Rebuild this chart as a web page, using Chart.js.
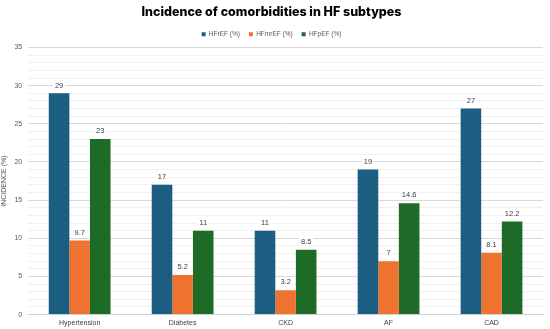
<!DOCTYPE html>
<html>
<head>
<meta charset="utf-8">
<script src="https://cdn.jsdelivr.net/npm/chart.js@4/dist/chart.umd.min.js"></script>
<style>
  html, body { margin: 0; padding: 0; background: #fff; }
  #wrap { width: 550px; height: 329px; position: relative; }
</style>
</head>
<body>
<div id="wrap"><canvas id="myChart"></canvas></div>
<script>
const categories = ['Hypertension', 'Diabetes', 'CKD', 'AF', 'CAD'];
const hfrefValues = [29, 17, 11, 19, 27];
const hfmrefValues = [9.7, 5.2, 3.2, 7, 8.1];
const hfpefValues = [23, 11, 8.5, 14.6, 12.2];
const seriesNames = ['HFrEF (%)', 'HFmrEF (%)', 'HFpEF (%)'];

// draws the value above every bar
const barLabels = {
    id: 'barLabels',
    afterDatasetsDraw(chart) {
        const ctx = chart.ctx;
        ctx.save();
        ctx.font = '7.5px "Liberation Sans", Arial, sans-serif';
        ctx.textAlign = 'center';
        ctx.textBaseline = 'bottom';
        chart.data.datasets.forEach((ds, i) => {
            chart.getDatasetMeta(i).data.forEach((bar, j) => {
                const txt = String(ds.data[j]);
                const w = ctx.measureText(txt).width + 4;
                ctx.fillStyle = '#fff';
                ctx.fillRect(bar.x - w / 2, bar.y - 13, w, 9);
                ctx.fillStyle = '#404040';
                ctx.fillText(txt, bar.x, bar.y - 4);
            });
        });
        ctx.restore();
    }
};

const ctx = document.getElementById('myChart');
const myChart = new Chart(ctx, {
    type: 'bar',
    data: {
        labels: categories,
        datasets: [
            {
                label: seriesNames[0],
                data: hfrefValues,
                backgroundColor: '#1b5e82'
            },
            {
                label: seriesNames[1],
                data: hfmrefValues,
                backgroundColor: '#ee7331'
            },
            {
                label: seriesNames[2],
                data: hfpefValues,
                backgroundColor: '#1e6b28'
            }
        ]
    },
    options: {
        responsive: true,
        maintainAspectRatio: false,
        animation: false,
        categoryPercentage: 0.6,
        barPercentage: 1.0,
        layout: { padding: { left: 0, right: 7, top: 0, bottom: -2 } },
        plugins: {
            title: {
                display: true,
                text: 'Incidence of comorbidities in HF subtypes',
                color: '#000',
                font: { family: 'Inter', size: 12.5, weight: '800' },
                padding: { top: 5, bottom: 2 }
            },
            legend: {
                labels: {
                    boxWidth: 4,
                    boxHeight: 4,
                    padding: 9,
                    color: '#595959',
                    font: { family: '"Liberation Sans", Arial, sans-serif', size: 6.5 }
                }
            },
            tooltip: { enabled: false }
        },
        scales: {
            x: {
                grid: { display: false, drawTicks: false },
                border: { color: '#d0d0d0' },
                ticks: {
                    color: '#404040',
                    font: { family: '"Liberation Sans", Arial, sans-serif', size: 7 },
                    padding: 4
                }
            },
            y: {
                min: 0,
                max: 35,
                border: { display: false },
                grid: {
                    color: c => (c.tick.value % 5 === 0 ? '#d9d9d9' : '#f0f0f0'),
                    drawTicks: false
                },
                ticks: {
                    stepSize: 1,
                    autoSkip: false,
                    padding: 6,
                    color: '#595959',
                    font: { family: '"Liberation Sans", Arial, sans-serif', size: 7 },
                    callback: v => (v % 5 === 0 ? v : '')
                },
                title: {
                    display: true,
                    text: 'INCIDENCE (%)',
                    color: '#595959',
                    font: { family: '"Liberation Sans", Arial, sans-serif', size: 7 },
                    padding: 0
                }
            }
        }
    },
    plugins: [barLabels]
});
</script>
</body>
</html>
